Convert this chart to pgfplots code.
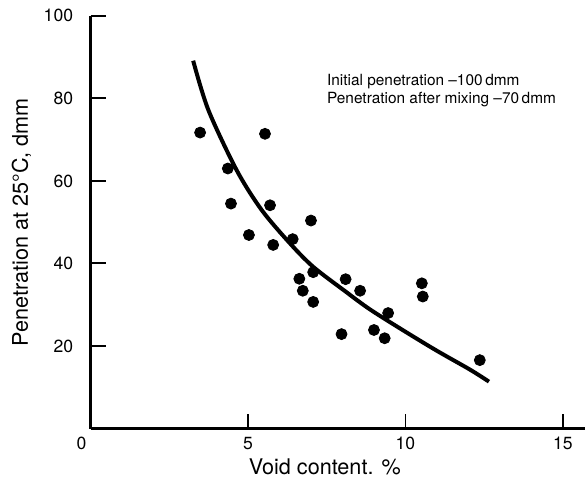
\documentclass[border=0pt]{standalone}
\usepackage{fontspec}
\setmainfont{TeX Gyre Heros}
\usepackage{pgfplots}
\pgfplotsset{compat=1.18}

% void content vs penetration
\pgfplotstableread{
x y
3.48 71.7
5.54 71.4
4.36 63.0
4.46 54.5
5.70 54.1
7.00 50.4
5.03 46.9
5.80 44.5
6.42 45.9
6.63 36.3
7.07 37.9
6.74 33.4
7.07 30.7
8.10 36.2
8.56 33.4
9.45 28.0
7.97 22.9
9.00 23.9
9.34 21.9
10.52 35.2
10.55 32.0
12.36 16.6
}\points

\pgfplotstableread{
x y
3.26 89.1
3.74 77.2
4.64 62.6
5.43 53.0
6.33 44.9
7.07 39.2
8.10 33.2
8.87 28.9
9.93 23.8
10.99 18.9
12.05 14.3
12.65 11.4
}\fit

\begin{document}
\begin{tikzpicture}
\begin{axis}[
    scale only axis, width=247.25bp, height=206.5bp,
    xmin=0, xmax=15.7, ymin=0, ymax=100,
    axis lines=left, axis line style={-, line width=1.5bp},
    xtick={5,10,15}, ytick={20,40,60,80,100},
    tick align=inside, major tick length=7.5bp,
    xtick style={line width=0.6bp, black},
    ytick style={line width=1bp, black},
    /pgf/number format/assume math mode=true,
    every tick label/.append style={inner sep=0pt, font=\fontsize{8.8bp}{10.5bp}\selectfont},
    xticklabel style={yshift=-4bp},
    yticklabel style={xshift=-8.5bp},
    clip=false,
]
\addplot[only marks, mark=*, mark size=2.75bp, black] table[x=x,y=y] {\points};
\addplot[smooth, tension=0.5, line width=2bp, black, no markers] table[x=x,y=y] {\fit};

\node[anchor=north east, inner sep=0pt, font=\fontsize{8.8bp}{10.5bp}\selectfont]
    at ([xshift=-1.9bp, yshift=-4bp]axis cs:0,0) {0};
\node[anchor=base, inner sep=0pt, font=\fontsize{10.8bp}{13bp}\selectfont]
    at ([yshift=-23bp]axis cs:7.44,0) {Void content. \%};
\node[anchor=base, rotate=90, inner sep=0pt, font=\fontsize{10.8bp}{13bp}\selectfont]
    at ([xshift=-31.25bp]axis cs:0,50) {Penetration at 25°C, dmm};
\node[anchor=base west, inner sep=0pt, font=\fontsize{7.7bp}{9bp}\selectfont]
    at (axis cs:7.5,83.2) {Initial penetration --100\,dmm};
\node[anchor=base west, inner sep=0pt, font=\fontsize{7.7bp}{9bp}\selectfont]
    at ([yshift=-9bp]axis cs:7.5,83.2) {Penetration after mixing --70\,dmm};
\end{axis}
\pgfresetboundingbox
\path[use as bounding box] (-45.25bp,-29.65bp) rectangle (247.25bp,214.35bp);
\end{tikzpicture}
\end{document}
